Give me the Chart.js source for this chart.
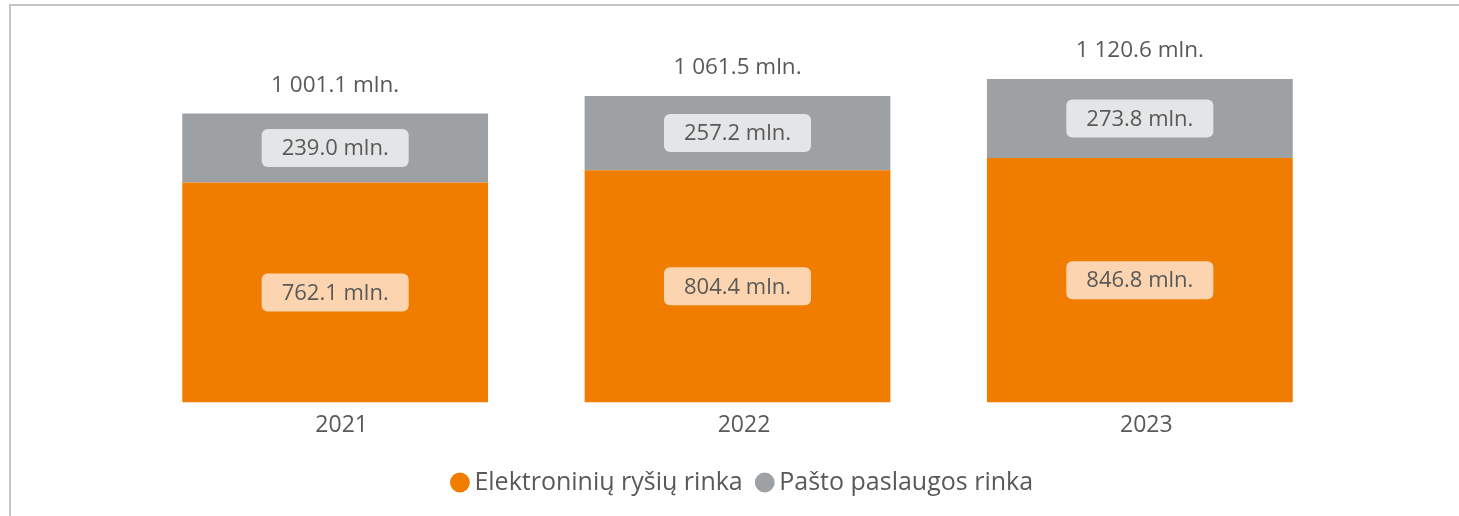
<!DOCTYPE html>
<html>
<head>
<meta charset="utf-8">
<script src="https://cdn.jsdelivr.net/npm/chart.js@4.4.1/dist/chart.umd.min.js"></script>
<style>
  html, body { margin: 0; padding: 0; background: #fff; overflow: hidden; }
  #frame { position: absolute; left: 9px; top: 4px; width: 1470px; height: 530px;
           border-left: 2px solid #c8c4c6; border-top: 2px solid #c8c4c6; }
  #wrap { position: absolute; left: 0; top: 0; width: 1459px; height: 516px; }
</style>
</head>
<body>
<div id="frame"></div>
<div id="wrap"><canvas id="myChart"></canvas></div>
<script>
const years = ['2021', '2022', '2023'];
const elektronika = [762.1, 804.4, 846.8];
const pastas = [239.0, 257.2, 273.8];
const totals = [1001.1, 1061.5, 1120.6];
const seriesNames = ['Elektroninių ryšių rinka', 'Pašto paslaugos rinka'];

const textColor = '#595959';
const fontFamily = '"Open Sans", "Noto Sans", sans-serif';
const boxColors = ['#fcd5b0', '#e4e5e6'];

function fmt(v) {
  const parts = v.toFixed(1).split('.');
  const whole = parts[0].replace(/\B(?=(\d{3})+(?!\d))/g, ' ');
  return whole + '.' + parts[1] + ' mln.';
}

// value boxes inside the bars + totals above
const barLabels = {
  id: 'barLabels',
  afterLayout(chart) {
    // nudge legend a bit, like in the original
    chart.legend.left += 8;
    chart.legend.right += 8;
    chart.legend.top += 10;
    chart.legend.bottom += 10;
  },
  afterDatasetsDraw(chart) {
    const ctx = chart.ctx;
    ctx.save();
    ctx.textAlign = 'center';
    ctx.textBaseline = 'middle';
    ctx.font = '22px ' + fontFamily;
    chart.data.datasets.forEach((ds, di) => {
      const meta = chart.getDatasetMeta(di);
      meta.data.forEach((bar, i) => {
        const cy = (bar.y + bar.base) / 2;
        ctx.fillStyle = boxColors[di];
        ctx.beginPath();
        ctx.roundRect(bar.x - 73.5, cy - 19, 147, 38, 6);
        ctx.fill();
        ctx.fillStyle = textColor;
        ctx.fillText(fmt(ds.data[i]), bar.x, cy + 1);
      });
    });
    ctx.font = '22.5px ' + fontFamily;
    const topMeta = chart.getDatasetMeta(1);
    topMeta.data.forEach((bar, i) => {
      ctx.fillStyle = textColor;
      ctx.fillText(fmt(totals[i]), bar.x, bar.y - 28);
    });
    ctx.restore();
  }
};

const data = {
  labels: years,
  datasets: [{
    label: seriesNames[0],
    backgroundColor: '#f07d00',
    data: elektronika
  }, {
    label: seriesNames[1],
    backgroundColor: '#9da1a4',
    data: pastas
  }]
};

const config = {
  type: 'bar',
  data: data,
  plugins: [barLabels],
  options: {
    responsive: false,
    animation: false,
    layout: { padding: { left: 134, right: 118, top: 56, bottom: 21 } },
    datasets: { bar: { barPercentage: 0.76, categoryPercentage: 1 } },
    scales: {
      x: {
        stacked: true,
        grid: { display: false },
        border: { display: false },
        ticks: { color: textColor, font: { family: fontFamily, size: 23 }, padding: 1, labelOffset: 6.5 }
      },
      y: {
        stacked: true,
        display: false,
        min: 0,
        max: 1200
      }
    },
    plugins: {
      tooltip: { enabled: false },
      legend: {
        position: 'bottom',
        labels: {
          color: textColor,
          font: { family: fontFamily, size: 25 },
          usePointStyle: true,
          pointStyle: 'circle',
          boxWidth: 4,
          boxHeight: 14,
          padding: 20
        }
      }
    }
  }
};

const canvas = document.getElementById('myChart');
canvas.width = 1459;
canvas.height = 516;
const myChart = new Chart(canvas, config);
</script>
</body>
</html>
